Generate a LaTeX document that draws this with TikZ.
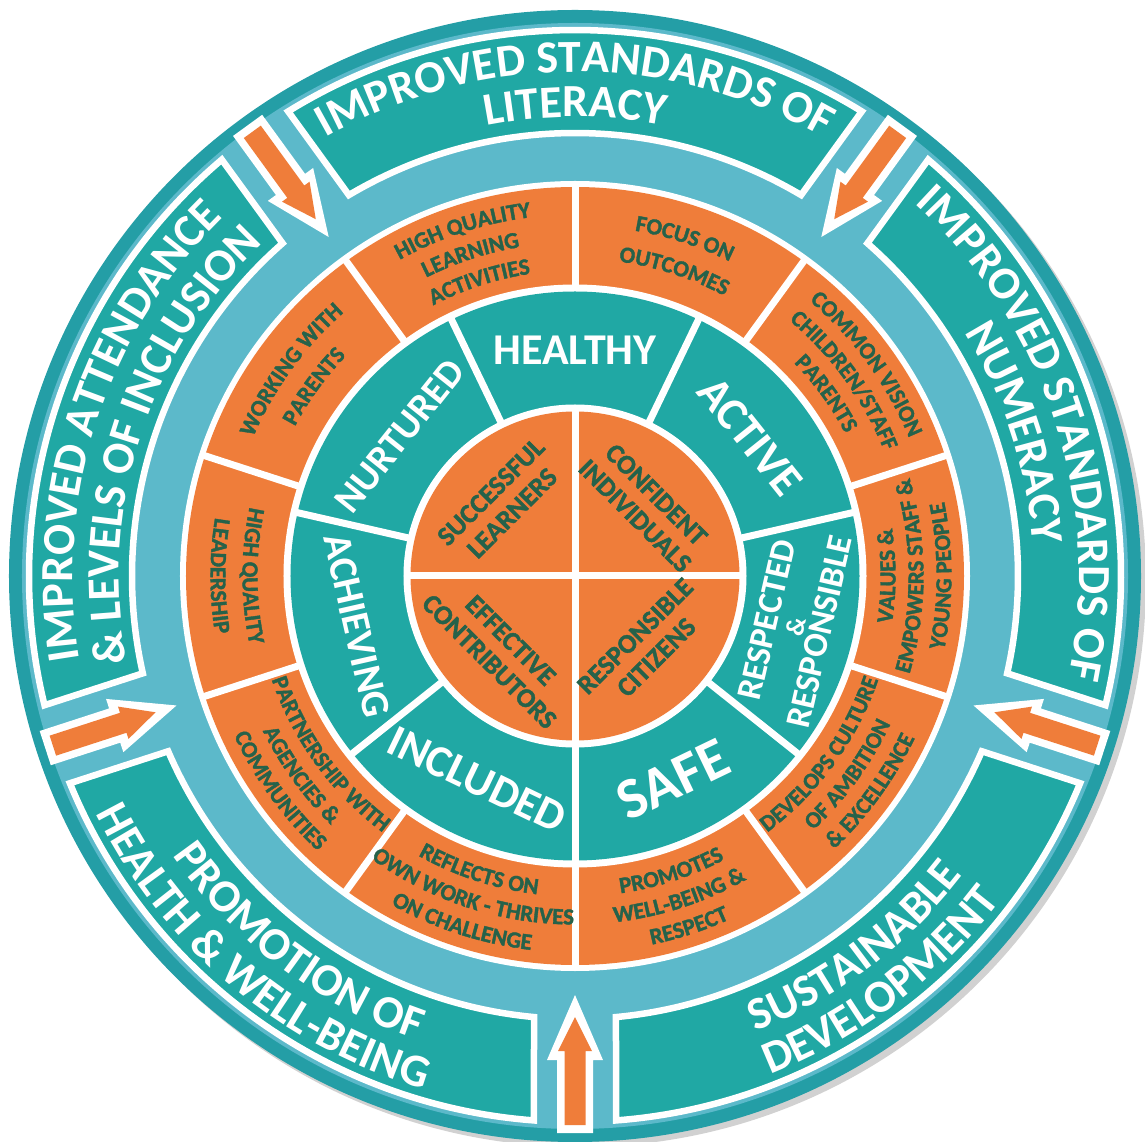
\documentclass[tikz,border=0pt]{standalone}
\usepackage{fontspec}
\setmainfont{Carlito}
\newfontfamily\heavy{Carlito}[BoldFeatures={FakeBold=1.6}]
\usetikzlibrary{decorations.text}

\definecolor{rimteal}{RGB}{36,158,166}
\definecolor{boxteal}{RGB}{32,168,164}
\definecolor{bandblue}{RGB}{92,185,202}
\definecolor{segorange}{RGB}{239,125,58}
\definecolor{ink}{RGB}{38,98,74}

\newcommand\boxfmt{\color{white}\bfseries\fontsize{46}{50}\selectfont}
\newcommand\segfmt{\color{ink}\heavy\bfseries\fontsize{23}{25}\selectfont}

% one line of text bent along a circle: clockwise (letters stand outward)
\newcommand\cwline[4]{\path[decorate,decoration={text along path,text align=center,text={|#1|#4}}]
  ({#2+50}:#3pt) arc[start angle={#2+50},end angle={#2-50},radius=#3pt];}
% counter-clockwise (letters stand toward the centre)
\newcommand\ccwline[4]{\path[decorate,decoration={text along path,text align=center,text={|#1|#4}}]
  ({#2-50}:#3pt) arc[start angle={#2-50},end angle={#2+50},radius=#3pt];}

\tikzset{
  ringlabel/.style={text=white,align=center,inner sep=0pt},
  corelabel/.style={text=ink,font=\heavy\bfseries\fontsize{27}{30}\selectfont,align=center,inner sep=0pt},
}

% a white word in the teal ring
\newcommand\ringword[5]{%
  \node[ringlabel,rotate=#3,font=\bfseries\fontsize{#4}{27}\selectfont] (#1) at (#2) {#5};}

\begin{document}
\begin{tikzpicture}[x=1pt,y=1pt]
\useasboundingbox (-575,-566) rectangle (570,576);

% disc with soft shadow, rim and light band
\fill[black,opacity=0.18] (5,-5) circle (566pt);
\fill[rimteal] (0,0) circle (566pt);
\fill[bandblue] (0,0) circle (553pt);

% five outer boxes, separated by parallel-sided gaps
\foreach \c in {90,162,234,306,18} {
  \draw[white,line width=6.5pt,fill=boxteal,line join=miter]
    ({\c-36+5.31}:443pt) arc[start angle={\c-36+5.31},end angle={\c+36-5.31},radius=443pt]
    -- ({\c+36-4.31}:546pt) arc[start angle={\c+36-4.31},end angle={\c-36+4.31},radius=546pt] -- cycle;
}

% inward arrows in the gaps
\foreach \a in {126,198,270,342,54} {
  \begin{scope}[rotate=\a]
    \fill[white] (419,0) -- (484,28) -- (484,18) -- (557,18) -- (557,-18) -- (484,-18) -- (484,-28) -- cycle;
    \fill[segorange] (441,0) -- (475,17) -- (475,10.5) -- (549,10.5) -- (549,-10.5) -- (475,-10.5) -- (475,-17) -- cycle;
  \end{scope}
}

% rings
\fill[white] (0,0) circle (395pt);
\fill[segorange] (0,0) circle (389pt);
\fill[white] (0,0) circle (291.5pt);
\fill[boxteal] (0,0) circle (284.5pt);
\fill[white] (0,0) circle (171.5pt);
\fill[segorange] (0,0) circle (164.5pt);

% dividers
\foreach \a in {18,54,...,342} \draw[white,line width=7pt] (\a:286pt) -- (\a:392pt);
\foreach \k in {0,...,6} \draw[white,line width=7pt] ({12.857+51.4286*\k}:166pt) -- ({12.857+51.4286*\k}:290pt);
\draw[white,line width=7pt] (-168,0) -- (168,0) (0,-168) -- (0,168);

% outer box captions
\cwline{\boxfmt}{90}{504}{IMPROVED STANDARDS OF}
\cwline{\boxfmt}{90}{459}{LITERACY}
\cwline{\boxfmt}{162}{502}{IMPROVED ATTENDANCE}
\cwline{\boxfmt}{162}{456}{{\&} LEVELS OF INCLUSION}
\cwline{\boxfmt}{18}{504}{IMPROVED STANDARDS OF}
\cwline{\boxfmt}{18}{459}{NUMERACY}
\ccwline{\boxfmt}{233}{490}{PROMOTION OF}
\ccwline{\boxfmt}{230}{535}{HEALTH {\&} WELL-BEING}
\ccwline{\boxfmt}{307}{490}{SUSTAINABLE}
\ccwline{\boxfmt}{307}{535}{DEVELOPMENT}

% orange ring captions
\cwline{\segfmt}{108}{361.5}{HIGH QUALITY}
\cwline{\segfmt}{108}{333.5}{LEARNING}
\cwline{\segfmt}{108}{305.5}{ACTIVITIES}
\cwline{\segfmt}{72}{350.5}{FOCUS ON}
\cwline{\segfmt}{72}{317.5}{OUTCOMES}
\cwline{\segfmt}{36}{361.5}{COMMON VISION}
\cwline{\segfmt}{36}{333.5}{CHILDREN/STAFF}
\cwline{\segfmt}{36}{305.5}{PARENTS}
\ccwline{\segfmt}{0}{320.5}{VALUES {\&}}
\ccwline{\segfmt}{0}{348.5}{EMPOWERS STAFF {\&}}
\ccwline{\segfmt}{0}{376.5}{YOUNG PEOPLE}
\ccwline{\segfmt}{-36}{320.5}{DEVELOPS CULTURE}
\ccwline{\segfmt}{-36}{348.5}{OF AMBITION}
\ccwline{\segfmt}{-36}{376.5}{{\&} EXCELLENCE}
\ccwline{\segfmt}{-72}{320.5}{PROMOTES}
\ccwline{\segfmt}{-72}{348.5}{WELL-BEING {\&}}
\ccwline{\segfmt}{-72}{376.5}{RESPECT}
\ccwline{\segfmt}{-108}{320.5}{REFLECTS ON}
\ccwline{\segfmt}{-108}{348.5}{OWN WORK - THRIVES}
\ccwline{\segfmt}{-108}{376.5}{ON CHALLENGE}
\ccwline{\segfmt}{-144}{320.5}{PARTNERSHIP WITH}
\ccwline{\segfmt}{-144}{348.5}{AGENCIES {\&}}
\ccwline{\segfmt}{-144}{376.5}{COMMUNITIES}
\ccwline{\segfmt}{180}{332.5}{HIGH QUALITY}
\ccwline{\segfmt}{180}{364.5}{LEADERSHIP}
\cwline{\segfmt}{144}{350.5}{WORKING WITH}
\cwline{\segfmt}{144}{317.5}{PARENTS}

% teal ring words
\ringword{healthy}{90:226pt}{0}{44}{HEALTHY}
\ringword{active}{38.57:224pt}{-51.43}{46}{ACTIVE}
\ringword{respected}{-12.86:224pt}{77.14}{35}{RESPECTED\\{\fontsize{26}{27}\selectfont\&}\\RESPONSIBLE}
\ringword{safe}{-64.29:226pt}{25.71}{58}{SAFE}
\ringword{included}{244.29:226pt}{-25.71}{45}{INCLUDED}
\ringword{achieving}{192.86:224pt}{-77.14}{40}{ACHIEVING}
\ringword{nurtured}{141.43:224pt}{51.43}{39}{NURTURED}

% the four capacities
\node[corelabel,rotate=45] (learners) at (135:104pt) {SUCCESSFUL\\LEARNERS};
\node[corelabel,rotate=-45] (individuals) at (45:100pt) {CONFIDENT\\INDIVIDUALS};
\node[corelabel,rotate=-45] (contributors) at (225:106pt) {EFFECTIVE\\CONTRIBUTORS};
\node[corelabel,rotate=45] (citizens) at (-45:100pt) {RESPONSIBLE\\CITIZENS};
\end{tikzpicture}
\end{document}
